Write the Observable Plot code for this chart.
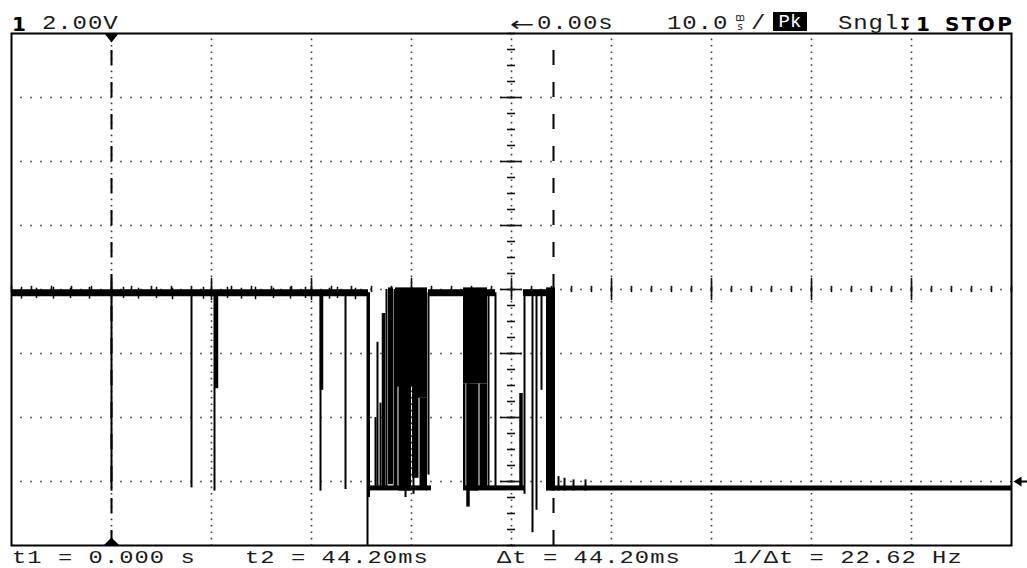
<!DOCTYPE html>
<html><head><meta charset="utf-8">
<script src="https://cdn.jsdelivr.net/npm/d3@7"></script>
<script src="https://cdn.jsdelivr.net/npm/@observablehq/plot@0.6"></script>
<style>
body{margin:0;background:#fff;}
#wrap{position:relative;width:1027px;height:568px;overflow:hidden;background:#fff;}
#wrap svg{position:absolute;left:0;top:0;display:block;overflow:visible;}
.lbl{position:absolute;font-family:"Liberation Mono",monospace;font-size:20px;line-height:14px;letter-spacing:0.75px;color:#1a1a1a;white-space:pre;transform:scaleX(1.2);transform-origin:left center;}
.bot{font-size:19px;letter-spacing:0.85px;transform:scaleX(1.25);}
.b{font-family:"DejaVu Sans",sans-serif;font-weight:bold;color:#000;letter-spacing:0;transform:none;}
.pk{position:absolute;left:773px;top:12px;width:34px;height:19px;background:#000;color:#fff;font-family:"Liberation Mono",monospace;font-size:19px;line-height:20px;text-align:center;letter-spacing:0;}
.frac{position:absolute;font-family:"DejaVu Sans",sans-serif;font-size:10px;line-height:9px;color:#222;text-align:center;width:16px;}
</style></head><body><div id="wrap"></div>
<script>
// ---------- scope settings / tick values ----------
const gridTimes = [0, 10, 20, 30, 40, 50, 60, 70, 80];      // ms, 10 ms/div
const gridVolts = [0, 2, 4, 6, 8, 10, 12];                  // V, 2 V/div
const centerTime = 40;
const centerVolt = 6;
const cursorTimes = [0, 44.2];                              // t1, t2 (ms)
const groundVolt = 0;

// ---------- trace plateaus (start ms, end ms, level V) ----------
const plateauStart = [-10, 25.6, 28.4, 31.4, 31.7, 35.2, 37.6, 38.4, 41.2, 44.0];
const plateauEnd   = [25.7, 28.4, 31.6, 32.0, 35.4, 38.4, 38.4, 41.3, 44.2, 90];
const plateauVolt  = [5.9, -0.2, -0.2, -0.2, 5.9, -0.2, 5.9, -0.2, 5.9, -0.2];

// ---------- dense (peak-detect filled) burst blocks ----------
const blockStart = [27.7, 28.4, 30.4, 28.4, 28.75, 30.1, 30.85, 35.2, 35.2, 35.6, 36.85, 43.5];
const blockEnd   = [28.2, 30.4, 31.6, 28.65, 30.0, 30.75, 31.6, 37.6, 35.45, 36.75, 37.6, 44.4];
const blockHigh  = [6.05, 6.05, 6.05, 3.0, 3.0, 3.0, 2.6, 6.05, 3.05, 3.05, 3.05, 6.05];
const blockLow   = [-0.1, 2.95, 2.6, -0.2, -0.3, 0.1, -0.2, 3.05, -0.2, -0.3, -0.2, -0.3];

// ---------- thin vertical edges / glitches (ms, high V, low V) ----------
const edgeTime = [0.0, 8.0, 10.3, 20.9, 23.4, 25.6, 25.75,
  26.4, 26.6, 26.9, 27.5, 28.3,
  29.4, 30.2, 31.7,
  37.7, 38.4, 41.3, 42.1, 42.5, 43.0,
  44.7, 45.3, 46.2, 47.4];
const edgeHigh = [5.9, 5.9, 5.9, 5.9, 5.9, 5.9, 5.9,
  2.0, 4.35, 2.45, 6.0, 6.0,
  3.0, 3.0, 5.9,
  5.9, 5.9, 5.9, 5.9, 5.9, 5.9,
  0.15, 0.1, 0.05, 0.05];
const edgeLow = [-0.3, -0.2, -0.3, -0.3, -0.25, -2.0, -0.5,
  -0.2, -0.2, -0.2, -0.2, -0.2,
  -0.5, -0.4, 0.2,
  -0.2, -0.2, -0.4, -1.6, -0.9, 2.85,
  -0.3, -0.3, -0.3, -0.3];

// ---------- thicker glitches (ms, high V, low V) ----------
const thickTime = [10.5, 21.0, 27.2, 35.65, 40.95];
const thickHigh = [5.9, 5.9, 5.25, 3.05, 2.75];
const thickLow  = [2.9, 2.85, -0.2, -0.8, -0.2];

// ---------- small noise ticks on the high level ----------
const noiseTime = [-9.0, -7.5, -5.8, -4.1, -2.2, 1.2, 2.7, 4.5, 6.1, 9.2, 11.6, 13.0, 14.4, 16.2, 17.9, 19.4, 21.8, 22.6, 24.4];
const noiseHigh = [6.07, 6.04, 6.07, 6.04, 6.07, 6.07, 6.04, 6.07, 6.04, 6.07, 6.07, 6.04, 6.07, 6.04, 6.07, 6.07, 6.04, 6.07, 6.04];
const noiseLow  = [5.7, 5.72, 5.7, 5.72, 5.7, 5.72, 5.7, 5.72, 5.68, 5.7, 5.72, 5.7, 5.68, 5.72, 5.7, 5.72, 5.7, 5.72, 5.68];

// ---------- build tables ----------
const plateaus = plateauStart.map((s, i) => ({t1: s, t2: plateauEnd[i], v: plateauVolt[i]}));
const blocks = blockStart.map((s, i) => ({t1: s, t2: blockEnd[i], vHi: blockHigh[i], vLo: blockLow[i]}));
const edges = edgeTime.map((t, i) => ({t, vHi: edgeHigh[i], vLo: edgeLow[i]}));
const thick = thickTime.map((t, i) => ({t, vHi: thickHigh[i], vLo: thickLow[i]}));
const noise = noiseTime.map((t, i) => ({t, vHi: noiseHigh[i], vLo: noiseLow[i]}));

const vMinor = d3.range(-2, 14.01, 0.5);
const tMinor = d3.range(-10, 90.01, 2);
const dotColor = "#3a3a3a";

// cursor / ground marker symbols
const triDown = {draw(ctx) { ctx.moveTo(-7, 0); ctx.lineTo(7, 0); ctx.lineTo(0, 9); ctx.closePath(); }};
const triUp = {draw(ctx) { ctx.moveTo(-8, 0); ctx.lineTo(8, 0); ctx.lineTo(0, -8); ctx.closePath(); }};
const triLeft = {draw(ctx) { ctx.moveTo(0, 0); ctx.lineTo(8, -5); ctx.lineTo(8, 5); ctx.closePath(); ctx.moveTo(8, -1); ctx.lineTo(14, -1); ctx.lineTo(14, 1); ctx.lineTo(8, 1); ctx.closePath(); }};

const chart = Plot.plot({
  width: 1027, height: 568,
  marginTop: 33, marginBottom: 23, marginLeft: 11, marginRight: 16,
  x: {domain: [-10, 90], axis: null},
  y: {domain: [-2, 14], axis: null},
  style: {background: "transparent", overflow: "visible"},
  marks: [
    Plot.ruleY(gridVolts, {stroke: dotColor, strokeWidth: 1.6, strokeDasharray: "1.6 8.4", strokeDashoffset: 0.8}),
    Plot.ruleX(gridTimes, {stroke: dotColor, strokeWidth: 1.6, strokeDasharray: "1.6 4.8", strokeDashoffset: 0.8}),
    // center axes with minor ticks
    Plot.ruleY(vMinor, {x1: centerTime - 0.4, x2: centerTime + 0.4, stroke: "#111", strokeWidth: 1.6}),
    Plot.ruleY(gridVolts, {x1: centerTime - 1.1, x2: centerTime + 1.1, stroke: "#111", strokeWidth: 1.6}),
    Plot.ruleX(tMinor, {y1: centerVolt - 0.1, y2: centerVolt + 0.1, stroke: "#111", strokeWidth: 1.6}),
    Plot.ruleX(gridTimes, {y1: centerVolt - 0.35, y2: centerVolt + 0.35, stroke: "#111", strokeWidth: 1.6}),
    // cursors
    Plot.ruleX(cursorTimes, {stroke: "#000", strokeWidth: 2, strokeDasharray: "15 17", strokeDashoffset: 15}),
    Plot.dot([cursorTimes[0]], {x: d => d, y: 14, symbol: triDown, fill: "#000", stroke: null, r: 6}),
    Plot.dot([cursorTimes[0]], {x: d => d, y: -2, symbol: triUp, fill: "#000", stroke: null, r: 6}),
    // trace
    Plot.rect(blocks, {x1: "t1", x2: "t2", y1: "vLo", y2: "vHi", fill: "#000", inset: 0}),
    Plot.ruleY(plateaus, {y: "v", x1: "t1", x2: "t2", stroke: "#000", strokeWidth: d => d.v > 3 ? 7 : 5}),
    Plot.ruleX(edges, {x: "t", y1: "vLo", y2: "vHi", stroke: "#000", strokeWidth: 2}),
    Plot.ruleX(thick, {x: "t", y1: "vLo", y2: "vHi", stroke: "#000", strokeWidth: 3.5}),
    Plot.ruleX(noise, {x: "t", y1: "vLo", y2: "vHi", stroke: "#000", strokeWidth: 1.5}),
    // frame
    Plot.frame({stroke: "#000", strokeWidth: 2}),
    // ground marker
    Plot.dot([groundVolt], {x: 90, y: d => d, symbol: triLeft, fill: "#000", stroke: null, dx: 2, r: 6})
  ]
});

const wrap = document.getElementById("wrap");
wrap.appendChild(chart);

const labels = [
  {text: "1", left: 12, top: 17, cls: "lbl b"},
  {text: "2.00V", left: 42, top: 17, cls: "lbl"},
  {text: "←", left: 510, top: 17, cls: "lbl", style: "transform:scaleX(1.45);font-family:'DejaVu Sans'"},
  {text: "0.00s", left: 537, top: 17, cls: "lbl"},
  {text: "10.0", left: 667, top: 17, cls: "lbl"},
  {text: "/", left: 751, top: 17, cls: "lbl"},
  {text: "Sngl", left: 838, top: 17, cls: "lbl"},
  {text: "↧", left: 898, top: 17, cls: "lbl", style: "transform:none;letter-spacing:0;font-family:'DejaVu Sans';font-weight:bold;color:#000;font-size:17px"},
  {text: "1", left: 916, top: 17, cls: "lbl b"},
  {text: "STOP", left: 945, top: 17, cls: "lbl b", style: "letter-spacing:2.4px"},
  {text: "t1 = 0.000 s", left: 12, top: 551, cls: "lbl bot"},
  {text: "t2 = 44.20ms", left: 245, top: 551, cls: "lbl bot"},
  {text: "Δt = 44.20ms", left: 497, top: 551, cls: "lbl bot"},
  {text: "1/Δt = 22.62 Hz", left: 733, top: 551, cls: "lbl bot"}
];
for (const l of labels) {
  const s = document.createElement("div");
  s.className = l.cls;
  s.textContent = l.text;
  s.style.left = l.left + "px";
  s.style.top = l.top + "px";
  if (l.style) s.style.cssText += l.style;
  wrap.appendChild(s);
}
const frac = document.createElement("div");
frac.className = "frac";
frac.style.left = "732px"; frac.style.top = "13px";
frac.innerHTML = "m<br><span style='border-top:1px solid #222'>s</span>";
wrap.appendChild(frac);
const pk = document.createElement("div");
pk.className = "pk";
pk.textContent = "Pk";
wrap.appendChild(pk);
</script></body></html>
